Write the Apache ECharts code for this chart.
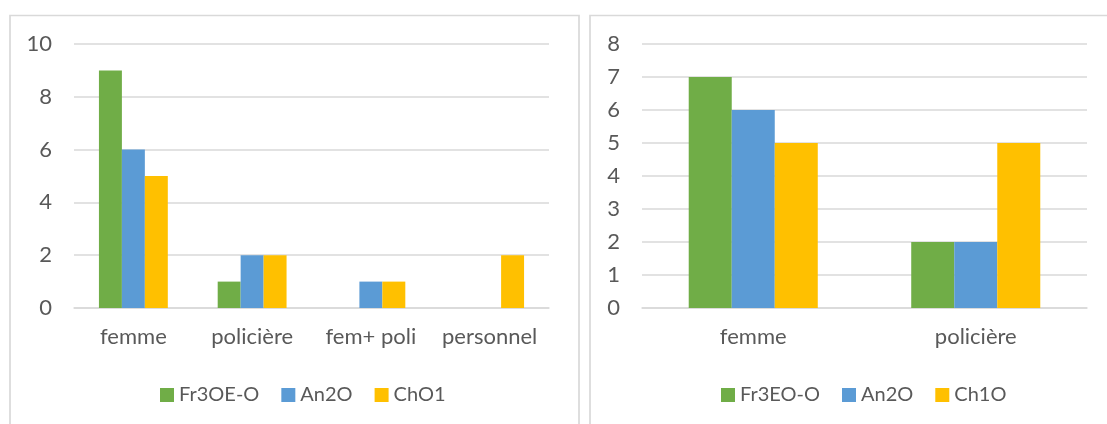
<!DOCTYPE html>
<html>
<head>
<meta charset="utf-8">
<script src="https://cdn.jsdelivr.net/npm/echarts@6/dist/echarts.min.js"></script>
<style>
html,body{margin:0;padding:0;background:#fff;}
#c{width:1107px;height:424px;}
</style>
</head>
<body>
<div id="c"></div>
<script>
// Left chart
const leftCategories = ['femme', 'policière', 'fem+ poli', 'personnel'];
const leftSeriesNames = ['Fr3OE-O', 'An2O', 'ChO1'];
const leftFr3OE = [9, 1, 0, 0];
const leftAn2O = [6, 2, 1, 0];
const leftChO1 = [5, 2, 1, 2];
const leftTicks = [0, 2, 4, 6, 8, 10];

// Right chart
const rightCategories = ['femme', 'policière'];
const rightSeriesNames = ['Fr3EO-O', 'An2O', 'Ch1O'];
const rightFr3EO = [7, 2];
const rightAn2O = [6, 2];
const rightCh1O = [5, 5];
const rightTicks = [0, 1, 2, 3, 4, 5, 6, 7, 8];

const COLORS = ['#70AD47', '#5B9BD5', '#FFC000'];
const TEXT = '#595959';
const GRID = '#D9D9D9';
const FONT = 'Lato, "Open Sans", sans-serif';

const chart = echarts.init(document.getElementById('c'), null, {renderer: 'canvas'});

function xAxis(idx, cats) {
  return {
    type: 'category', gridIndex: idx, data: cats,
    axisTick: {show: false},
    axisLine: {lineStyle: {color: GRID, width: 1.5}},
    axisLabel: {color: TEXT, fontSize: 22, fontFamily: FONT, margin: 18, interval: 0}
  };
}
function yAxis(idx, ticks) {
  return {
    type: 'value', gridIndex: idx,
    min: ticks[0], max: ticks[ticks.length - 1], interval: ticks[1] - ticks[0],
    axisLine: {show: false}, axisTick: {show: false},
    splitLine: {lineStyle: {color: GRID, width: 1.5}},
    axisLabel: {color: TEXT, fontSize: 22, fontFamily: FONT, margin: 22}
  };
}
function bar(name, data, colorIdx, axisIdx) {
  return {
    name: name, type: 'bar', data: data,
    xAxisIndex: axisIdx, yAxisIndex: axisIdx,
    barGap: '0%', barCategoryGap: '42%',
    itemStyle: {color: COLORS[colorIdx]},
    emphasis: {disabled: true}
  };
}
const legendCommon = {
  itemWidth: 14, itemHeight: 14, itemGap: 22, icon: 'rect',
  textStyle: {color: TEXT, fontSize: 20, fontFamily: FONT},
  top: 380
};

chart.setOption({
  animation: false,
  backgroundColor: '#fff',
  graphic: [
    {type: 'rect', shape: {x: 10, y: 15.5, width: 569, height: 430},
     style: {fill: 'none', stroke: GRID, lineWidth: 1.7}, silent: true},
    {type: 'rect', shape: {x: 590, y: 15.5, width: 540, height: 430},
     style: {fill: 'none', stroke: GRID, lineWidth: 1.7}, silent: true}
  ],
  grid: [
    {left: 74, right: 1107 - 549, top: 44, bottom: 424 - 308, containLabel: false},
    {left: 642, right: 1107 - 1087, top: 44, bottom: 424 - 308, containLabel: false}
  ],
  legend: [
    Object.assign({}, legendCommon, {left: 155, data: leftSeriesNames}),
    Object.assign({}, legendCommon, {left: 716, data: rightSeriesNames})
  ],
  xAxis: [xAxis(0, leftCategories), xAxis(1, rightCategories)],
  yAxis: [yAxis(0, leftTicks), yAxis(1, rightTicks)],
  series: [
    bar(leftSeriesNames[0], leftFr3OE, 0, 0),
    bar(leftSeriesNames[1], leftAn2O, 1, 0),
    bar(leftSeriesNames[2], leftChO1, 2, 0),
    bar(rightSeriesNames[0], rightFr3EO, 0, 1),
    bar(rightSeriesNames[1], rightAn2O, 1, 1),
    bar(rightSeriesNames[2], rightCh1O, 2, 1)
  ]
});
</script>
</body>
</html>
